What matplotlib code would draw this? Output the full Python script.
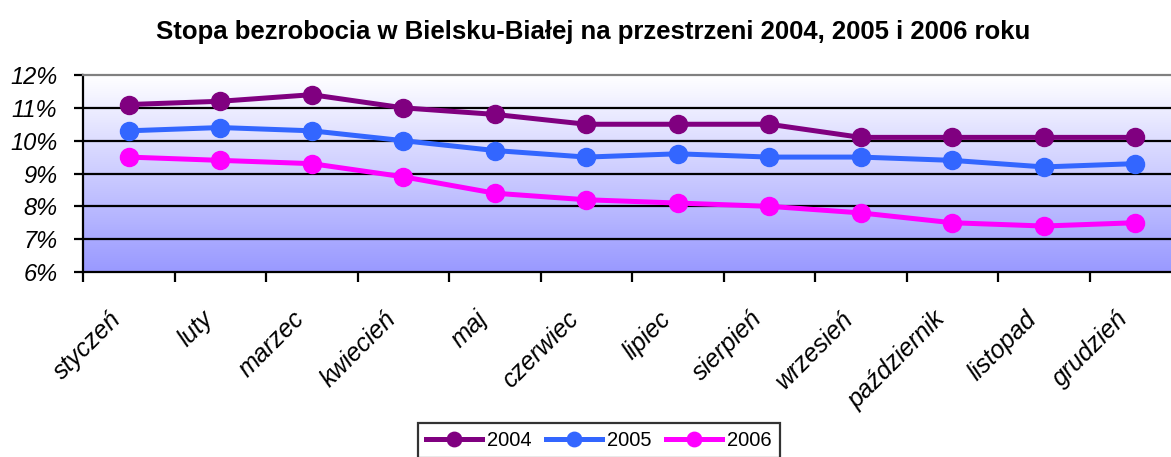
import numpy as np
import matplotlib
matplotlib.use("Agg")
import matplotlib.pyplot as plt
import matplotlib.transforms as mtransforms
from matplotlib.colors import LinearSegmentedColormap
from matplotlib.ticker import FuncFormatter

months = ["styczeń", "luty", "marzec", "kwiecień", "maj", "czerwiec",
          "lipiec", "sierpień", "wrzesień", "październik", "listopad", "grudzień"]
rate_2004 = [11.1, 11.2, 11.4, 11.0, 10.8, 10.5, 10.5, 10.5, 10.1, 10.1, 10.1, 10.1]
rate_2005 = [10.3, 10.4, 10.3, 10.0, 9.7, 9.5, 9.6, 9.5, 9.5, 9.4, 9.2, 9.3]
rate_2006 = [9.5, 9.4, 9.3, 8.9, 8.4, 8.2, 8.1, 8.0, 7.8, 7.5, 7.4, 7.5]
years = ["2004", "2005", "2006"]
colors = ["#800080", "#3366FF", "#FF00FF"]

plt.rcParams["font.family"] = ["Liberation Sans", "DejaVu Sans"]

fig = plt.figure(figsize=(11.71, 4.57), dpi=100)
ax = fig.add_axes([83 / 1171, 185 / 457, 1098 / 1171, 197 / 457])

x = np.arange(len(months))
ax.set_xlim(-0.5, len(months) - 0.5)
ax.set_ylim(6, 12)

# background gradient white -> light blue
cmap = LinearSegmentedColormap.from_list("bg", ["#9999FF", "#FFFFFF"])
grad = np.linspace(0, 1, 256).reshape(-1, 1)
ax.imshow(grad, extent=(-0.5, len(months) - 0.5, 6, 12), origin="lower",
          aspect="auto", cmap=cmap, zorder=0)

for yv in range(7, 12):
    ax.axhline(yv, color="black", lw=1.6, zorder=1)

for vals, yr, c in zip([rate_2004, rate_2005, rate_2006], years, colors):
    ax.plot(x, vals, color=c, lw=3.6, marker="o", markersize=13, label=yr, zorder=3)

ax.set_yticks(range(6, 13))
ax.yaxis.set_major_formatter(FuncFormatter(lambda v, p: f"{int(v)}%"))
ax.tick_params(axis="y", labelsize=17, length=6.5, width=1.6, pad=12)
for t in ax.get_yticklabels():
    t.set_fontstyle("italic")

ax.set_xticks(x)
ax.set_xticklabels(months, rotation=45, ha="right", rotation_mode="anchor",
                   fontsize=18, fontstyle="italic")
ax.tick_params(axis="x", which="major", length=0, pad=25)
shift = mtransforms.ScaledTranslation(-14 / 72, 0, fig.dpi_scale_trans)
for t in ax.get_xticklabels():
    t.set_transform(t.get_transform() + shift)
ax.set_xticks(np.arange(-0.5, len(months) + 0.5, 1), minor=True)
ax.tick_params(axis="x", which="minor", length=7, width=1.6)

for s in ["left", "bottom"]:
    ax.spines[s].set_linewidth(1.6)
ax.spines["top"].set_color("#808080")
ax.spines["top"].set_linewidth(1.6)
ax.spines["right"].set_visible(False)

fig.text(593 / 1171, 1 - 32 / 457, "Stopa bezrobocia w Bielsku-Białej na przestrzeni 2004, 2005 i 2006 roku",
         ha="center", va="center", fontsize=18.5, fontweight="bold")

leg = fig.legend(loc="upper center", bbox_to_anchor=(599 / 1171, 1 - 423 / 457), ncol=3,
                 fontsize=14.5, frameon=True, fancybox=False, edgecolor="black",
                 handlelength=2.8, handletextpad=0.25, columnspacing=0.7,
                 borderpad=0.4, borderaxespad=0, markerscale=0.8)
leg.get_frame().set_linewidth(1.6)

fig.savefig("out.png", dpi=100)
